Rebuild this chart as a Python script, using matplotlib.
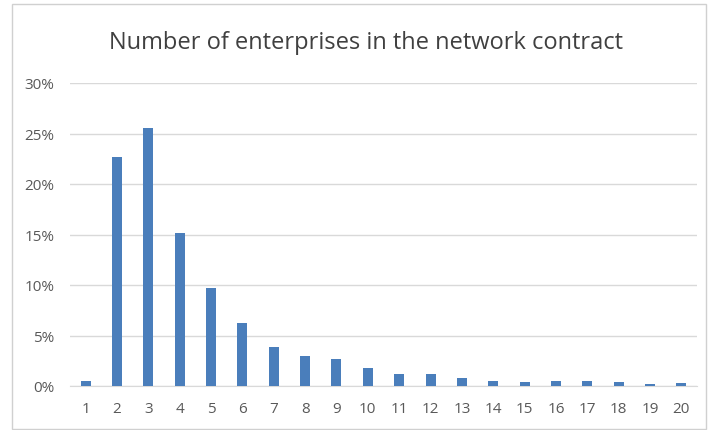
import matplotlib
matplotlib.use("Agg")
import matplotlib.pyplot as plt
from matplotlib.patches import Rectangle
from matplotlib.ticker import FuncFormatter, MultipleLocator

# Share of networks by number of enterprises (%)
categories = [str(i) for i in range(1, 21)]
shares = [0.5, 22.7, 25.5, 15.1, 9.7, 6.2, 3.9, 3.0, 2.7, 1.8,
          1.2, 1.2, 0.8, 0.5, 0.4, 0.5, 0.5, 0.4, 0.2, 0.3]

BAR_COLOR = "#4a7ebb"
TEXT_COLOR = "#595959"
GRID_COLOR = "#d9d9d9"

plt.rcParams["font.family"] = ["Open Sans", "DejaVu Sans"]

fig = plt.figure(figsize=(7.08, 4.31), dpi=100)
fig.patches.append(Rectangle((12 / 708, 0.002), 694 / 708, 1 - 5 / 431 - 0.002,
                             transform=fig.transFigure, fill=False,
                             edgecolor="#d0d0d0", linewidth=1.0))

ax = fig.add_axes([70 / 708, 1 - 387 / 431, 627 / 708, 303 / 431])
x = range(len(categories))
ax.bar(x, shares, width=0.32, color=BAR_COLOR, zorder=3)

ax.set_xlim(-0.5, len(categories) - 0.5)
ax.set_ylim(0, 30)
ax.set_xticks(list(x))
ax.set_xticklabels(categories)
ax.yaxis.set_major_locator(MultipleLocator(5))
ax.yaxis.set_major_formatter(FuncFormatter(lambda v, p: f"{int(v)}%"))
ax.tick_params(axis="both", length=0, labelsize=11, colors=TEXT_COLOR)
ax.tick_params(axis="x", pad=11)
ax.tick_params(axis="y", pad=11)
ax.grid(axis="y", color=GRID_COLOR, linewidth=1.0, zorder=0)
for side in ["top", "right", "left"]:
    ax.spines[side].set_visible(False)
ax.spines["bottom"].set_color(GRID_COLOR)

fig.text(0.517, 1 - 43 / 431, "Number of enterprises in the network contract",
         ha="center", va="center", fontsize=17, color="#404040")

fig.savefig("out.png", dpi=100)
plt.close(fig)
